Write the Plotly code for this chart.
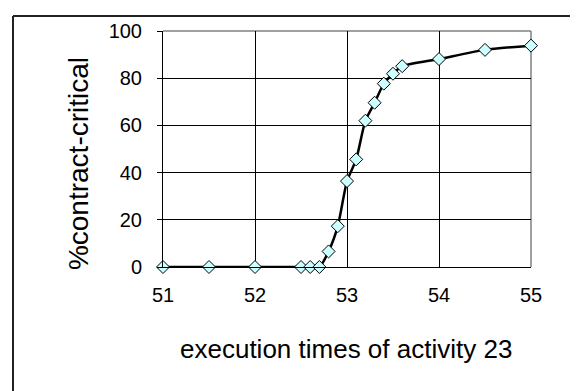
import plotly.graph_objects as go

# Data
exec_times = [51, 51.5, 52, 52.5, 52.6, 52.7, 52.8, 52.9, 53.0, 53.1, 53.2, 53.3, 53.4, 53.5, 53.6, 54, 54.5, 55]
pct_critical = [0, 0, 0, 0, 0, 0, 6.6, 17.3, 36.4, 45.6, 62.0, 69.6, 77.7, 81.9, 85.1, 88.1, 92.0, 93.8]
x_ticks = [51, 52, 53, 54, 55]
y_ticks = [0, 20, 40, 60, 80, 100]

FONT = "Liberation Sans, Arial, sans-serif"

fig = go.Figure()
fig.add_trace(go.Scatter(
    x=exec_times, y=pct_critical,
    mode="lines+markers",
    line=dict(color="black", width=2.5, shape="spline", smoothing=0.6),
    marker=dict(symbol="diamond", size=10, color="#CCFFFF",
                line=dict(color="black", width=1)),
    cliponaxis=False,
    showlegend=False,
))

# page has an 8px body margin; figure coordinates are page - 8
OFF = 8
W, H = 578 - OFF, 391 - OFF
L, T = 163 - OFF, 25 - OFF
R = W - (531 - OFF)
B = H - (267 - OFF)
pw, ph = W - L - R, H - T - B


def px(xp):
    return (xp - OFF - L) / pw


def py(yp):
    return (H - B - (yp - OFF)) / ph


fig.update_layout(
    width=W, height=H,
    margin=dict(l=L, r=R, t=T, b=B),
    paper_bgcolor="white", plot_bgcolor="white",
    font=dict(family=FONT, color="black"),
    xaxis=dict(range=[51, 55], tickvals=x_ticks, ticktext=[str(v) for v in x_ticks],
               showgrid=True, gridcolor="black", gridwidth=1,
               showline=True, linecolor="black", linewidth=1,
               zeroline=False, ticks="", tickfont=dict(size=20, family=FONT),
               ticklabelstandoff=10),
    yaxis=dict(range=[0, 100], tickvals=y_ticks, ticktext=[str(v) for v in y_ticks],
               showgrid=True, gridcolor="black", gridwidth=1,
               showline=True, linecolor="black", linewidth=1,
               zeroline=False, ticks="outside", ticklen=5, tickcolor="black",
               tickfont=dict(size=20, family=FONT), ticklabelstandoff=11),
    shapes=[
        # gray top and right plot-area edges
        dict(type="line", xref="paper", yref="paper", x0=0, x1=1, y0=1, y1=1,
             line=dict(color="#808080", width=1.5), layer="between"),
        dict(type="line", xref="paper", yref="paper", x0=1, x1=1, y0=0, y1=1,
             line=dict(color="#808080", width=1.5), layer="between"),
        # outer chart frame (left and top visible)
        dict(type="line", xref="paper", yref="paper",
             x0=px(13), x1=px(600), y0=py(9.5), y1=py(9.5),
             line=dict(color="#222222", width=2), layer="above"),
        dict(type="line", xref="paper", yref="paper",
             x0=px(13), x1=px(13), y0=py(9.5), y1=py(420),
             line=dict(color="#222222", width=2), layer="above"),
    ],
    annotations=[
        dict(text="execution times of activity 23", xref="paper", yref="paper",
             x=px(345.5), y=py(351), xanchor="center", yanchor="middle",
             showarrow=False, font=dict(size=26, family=FONT, color="black")),
        dict(text="%contract-critical", xref="paper", yref="paper",
             x=px(78), y=py(161.5), xanchor="center", yanchor="middle",
             textangle=-90, showarrow=False, font=dict(size=28, family=FONT, color="black")),
    ],
)

fig.write_html("out.html")
